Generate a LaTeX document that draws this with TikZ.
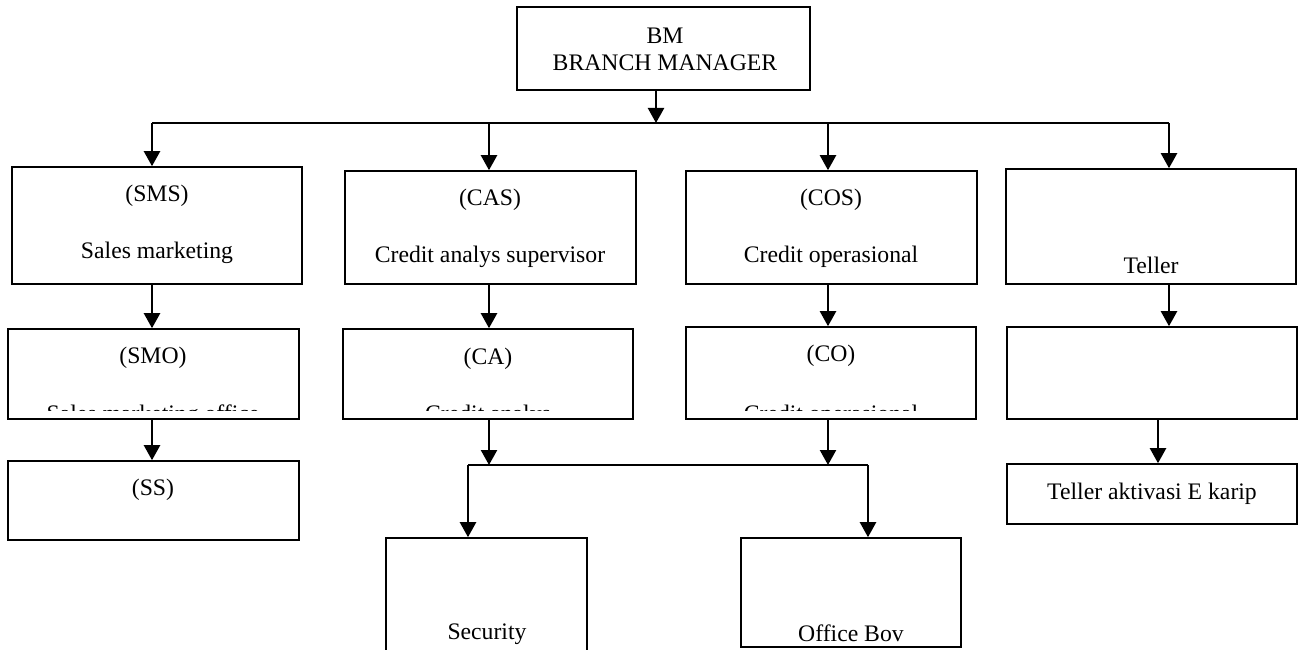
\documentclass[tikz,border=0pt]{standalone}
\usepackage{fontspec}
\setmainfont{Liberation Serif}
\usetikzlibrary{arrows.meta}
\begin{document}
\begin{tikzpicture}[x=1pt,y=-1pt,
  box/.style={draw=black,line width=1.6pt,fill=none},
  lbl/.style={inner sep=0pt,font=\fontsize{23.7}{28}\selectfont},
  arr/.style={line width=2.3pt,-{Triangle[width=16pt,length=15pt]}},
  bus/.style={line width=1.6pt}]
\useasboundingbox (0,0) rectangle (1302,650);

% boxes
\node[box,minimum width=293pt,minimum height=83pt] (bm) at (663.5,48.5) {};
\node[box,minimum width=290pt,minimum height=117pt] (sms) at (157,225.5) {};
\node[box,minimum width=291pt,minimum height=113pt] (cas) at (490.5,227.5) {};
\node[box,minimum width=291pt,minimum height=113pt] (cos) at (831.5,227.5) {};
\node[box,minimum width=290pt,minimum height=115pt] (tel) at (1151,226.5) {};
\node[box,minimum width=291pt,minimum height=90pt] (smo) at (153.5,374) {};
\node[box,minimum width=290pt,minimum height=90pt] (ca) at (488,374) {};
\node[box,minimum width=290pt,minimum height=92pt] (co) at (831,373) {};
\node[box,minimum width=290pt,minimum height=92pt] (tel2) at (1152,373) {};
\node[box,minimum width=291pt,minimum height=79pt] (ss) at (153.5,500.5) {};
\node[box,minimum width=290pt,minimum height=60pt] (tek) at (1152,494) {};
\node[box,minimum width=201pt,minimum height=124pt] (sec) at (486.5,600) {};
\node[box,minimum width=220pt,minimum height=109pt] (ob) at (851,592.5) {};

% labels
\node[lbl] (tbm1) at (665,36) {BM};
\node[lbl] (tbm2) at (665,63) {BRANCH MANAGER};
\node[lbl] (tsms1) at (157,196) {(SMS)};
\node[lbl] (tsms2) at (157,253) {Sales marketing};
\node[lbl] (tcas1) at (490,200) {(CAS)};
\node[lbl] (tcas2) at (490,257) {Credit analys supervisor};
\node[lbl] (tcos1) at (831,200) {(COS)};
\node[lbl] (tcos2) at (831,257) {Credit operasional};
\node[lbl] (ttel) at (1151,265) {Teller};
\node[lbl] (tsmo1) at (153,358) {(SMO)};
\node[lbl] (tca1) at (488,359) {(CA)};
\node[lbl] (tco1) at (831,356) {(CO)};
\node[lbl] (tss) at (153,490) {(SS)};
\node[lbl] (ttek) at (1152,494) {Teller aktivasi E karip};
\node[lbl] (tsec) at (487,634) {Security};
\node[lbl] (tob) at (851,633) {Office Bov};

% second lines of the middle row, cut off inside their boxes
\begin{scope}
  \clip (0,330) rectangle (1302,410.5);
  \node[lbl,anchor=base] (tsmo2) at (153,421) {Sales marketing office};
  \node[lbl,anchor=base] (tca2) at (488,421) {Credit analys};
  \node[lbl,anchor=base] (tco2) at (831,421) {Credit operasional};
\end{scope}

% connectors
\coordinate (b0) at (656,123);
\coordinate (b1) at (152,123);
\coordinate (b2) at (489,123);
\coordinate (b3) at (828,123);
\coordinate (b4) at (1169,123);
\draw[bus] (b1) -- (b4);
\draw[arr] (bm.south -| b0) -- (b0);
\draw[arr] (b1) -- (b1 |- sms.north);
\draw[arr] (b2) -- (b2 |- cas.north);
\draw[arr] (b3) -- (b3 |- cos.north);
\draw[arr] (b4) -- (b4 |- tel.north);

\draw[arr] (sms.south -| b1) -- (smo.north -| b1);
\draw[arr] (cas.south -| b2) -- (ca.north -| b2);
\draw[arr] (cos.south -| b3) -- (co.north -| b3);
\draw[arr] (tel.south -| b4) -- (tel2.north -| b4);

\draw[arr] (smo.south -| b1) -- (ss.north -| b1);
\coordinate (t5) at (1158,419);
\draw[arr] (tel2.south -| t5) -- (tek.north -| t5);

\coordinate (c1) at (468,465);
\coordinate (c2) at (868,465);
\draw[arr] (ca.south -| b2) -- (c1 -| b2);
\draw[arr] (co.south -| b3) -- (c2 -| b3);
\draw[bus] (c1) -- (c2);
\draw[arr] (c1) -- (c1 |- sec.north);
\draw[arr] (c2) -- (c2 |- ob.north);
\end{tikzpicture}
\end{document}
